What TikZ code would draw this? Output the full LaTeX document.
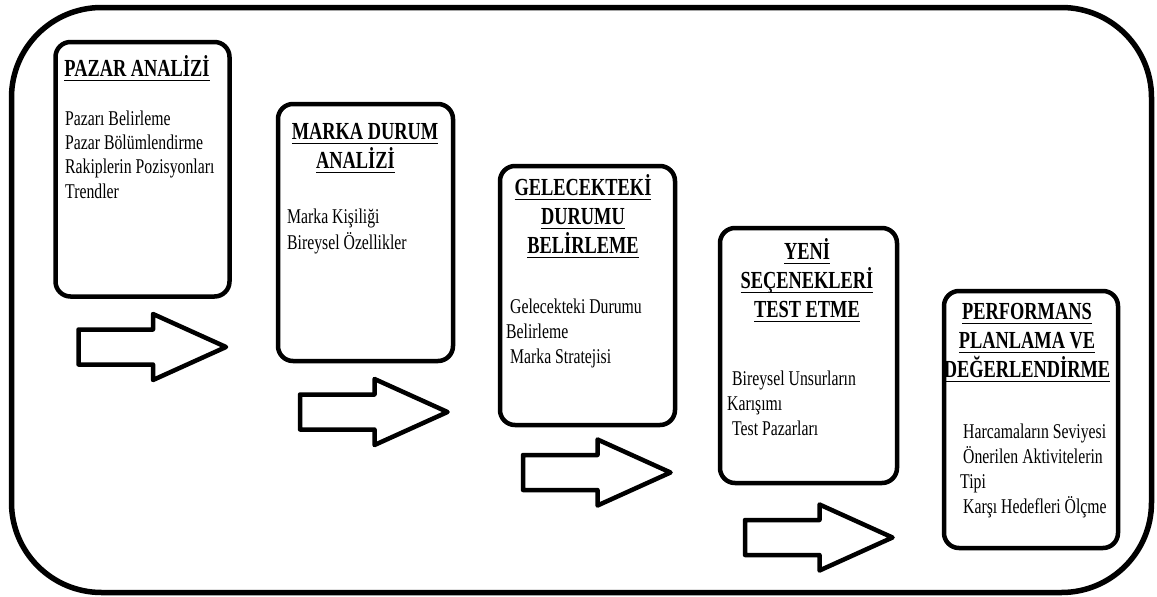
\documentclass[tikz,border=0pt]{standalone}
\usepackage{fontspec}
\setmainfont{Liberation Serif}[FakeStretch=0.75]
% underline drawn as a rule a little below the baseline
\newcommand\ulin[1]{\setbox0\hbox{#1}\rlap{\rule[-5.3pt]{\wd0}{1.7pt}}\box0}
\tikzset{
  frame/.style={draw, line width=5.5pt, rounded corners=90pt},
  stage/.style={draw, line width=4.5pt, rounded corners=15pt, inner sep=0pt},
  % multi-line nodes: the base anchor sits on the last line
  title/.style={font=\bfseries\fontsize{24.5}{29}\selectfont, align=center, inner sep=0pt, anchor=base},
  body/.style={font=\fontsize{21}{25}\selectfont, align=left, inner sep=0pt, anchor=base west},
  arrowline/.style={draw, line width=4.5pt, line join=round, fill=white},
  pics/blockarrow/.style={code={
    \path[arrowline] (0,-17.5) -- (74.5,-17.5) -- (74.5,-33) -- (147.5,0)
      -- (74.5,33) -- (74.5,17.5) -- (0,17.5) -- cycle;}}
}
\begin{document}
\begin{tikzpicture}[x=1pt,y=-1pt]
\useasboundingbox (0,0) rectangle (1157,597);

% outer frame
\path[frame] (11.5,7.5) rectangle (1151.5,592.5);

% stage boxes
\node[stage, minimum width=174pt, minimum height=254.5pt] (s1) at (142.5,169.25) {};
\node[stage, minimum width=175pt, minimum height=257pt]   (s2) at (365.5,232.5) {};
\node[stage, minimum width=175pt, minimum height=259pt]   (s3) at (587.5,295.5) {};
\node[stage, minimum width=177pt, minimum height=255pt]   (s4) at (808.5,355.5) {};
\node[stage, minimum width=174pt, minimum height=257pt]   (s5) at (1031,419.5) {};

% titles
\node[title] (t1) at (137,76) {\ulin{PAZAR ANALİZİ}};
\node[title] (t2) at (365,168) {\ulin{MARKA DURUM}\\\ulin{ANALİZİ}\hspace*{19pt}};
\node[title] (t3) at (583,253) {\ulin{GELECEKTEKİ}\\\ulin{DURUMU}\\\ulin{BELİRLEME}};
\node[title] (t4) at (807,317) {\ulin{YENİ}\\\ulin{SEÇENEKLERİ}\\\ulin{TEST ETME}};
\node[title] (t5) at (1027,377) {\ulin{PERFORMANS}\\\ulin{PLANLAMA VE}\\\ulin{DEĞERLENDİRME}};

% contents
\node[body, font=\fontsize{21}{24.4}\selectfont] (b1) at (65,198.3) {Pazarı Belirleme\\Pazar Bölümlendirme\\Rakiplerin Pozisyonları\\Trendler};
\node[body, font=\fontsize{21}{26}\selectfont] (b2) at (287,249) {Marka Kişiliği\\Bireysel Özellikler};
\node[body] (b3) at (506,363) {\hspace*{4pt}Gelecekteki Durumu\\Belirleme\\\hspace*{4pt}Marka Stratejisi};
\node[body] (b4) at (727,435) {\hspace*{5pt}Bireysel Unsurların\\Karışımı\\\hspace*{5pt}Test Pazarları};
\node[body] (b5) at (960,513) {\hspace*{3pt}Harcamaların Seviyesi\\\hspace*{3pt}Önerilen Aktivitelerin\\Tipi\\\hspace*{3pt}Karşı Hedefleri Ölçme};

% block arrows between stages
\pic (a1) at (78.5,347) {blockarrow};
\pic (a2) at (300,412) {blockarrow};
\pic (a3) at (523,472.5) {blockarrow};
\pic (a4) at (745,537.5) {blockarrow};
\end{tikzpicture}
\end{document}
